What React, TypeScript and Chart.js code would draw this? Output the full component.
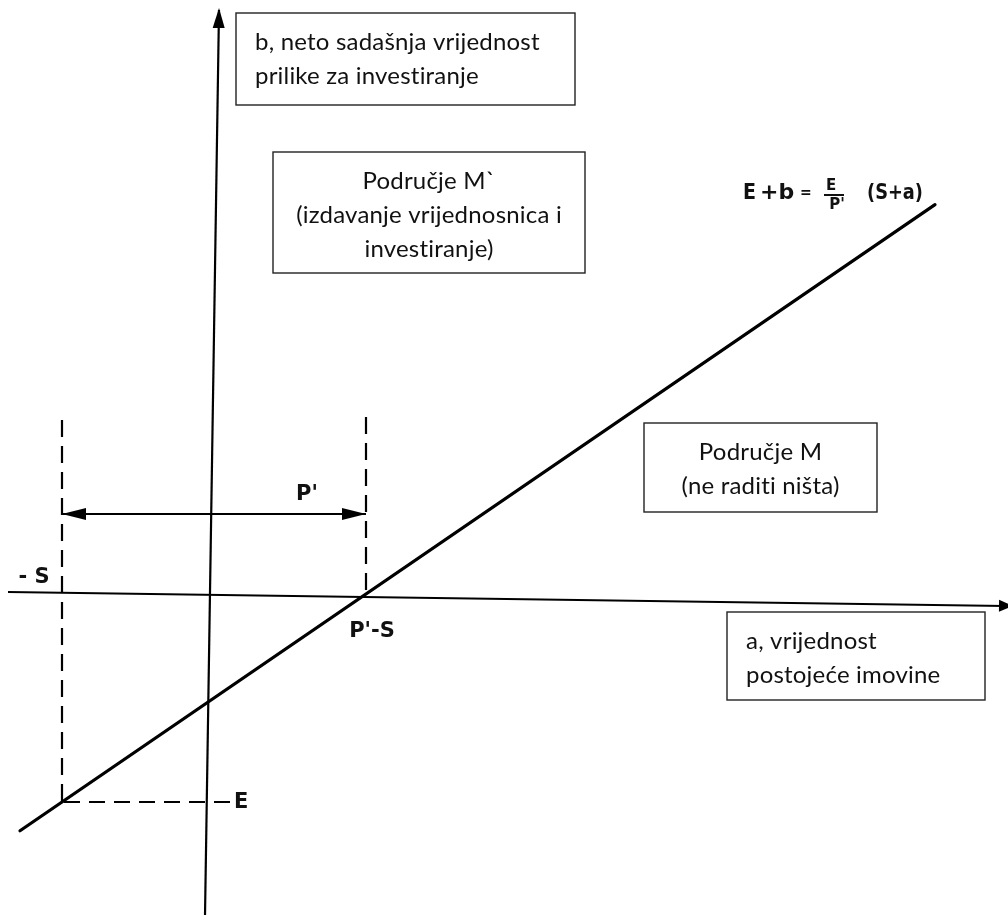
import React, { useEffect, useRef } from "react";
import { Chart, registerables } from "chart.js";

Chart.register(...registerables);

// ---- model values (abstract units, origin at the axes' crossing) ----
const S = 148;
const P = 304;
const E = 208;
const lineA = [-190, 725];
const xAxisA = [-202, 795];
const xAxisB = [2, -12];
const yAxisA = [-5, 9];
const yAxisB = [-321, 584];
const dashTopLeft = 174;
const dashTopRight = 177;
const eDashEnd = 20;
const arrowB = 80;

const scaleX = { min: -210, max: 798 };
const scaleY = { min: -321, max: 594 };

const pointLabels = [
  { text: "- S", a: -176, b: 16, align: "center" },
  { text: "P'", a: 97, b: 99, align: "center" },
  { text: "P'-S", a: 162, b: -38, align: "center" },
  { text: "E", a: 24, b: -209, align: "left" },
];

const boxes = [
  { a0: 26, a1: 365, b0: 581, b1: 489, align: "left", lines: ["b, neto sadašnja vrijednost", "prilike za investiranje"] },
  { a0: 63, a1: 375, b0: 442, b1: 321, align: "center", lines: ["Područje M`", "(izdavanje vrijednosnica i", "investiranje)"] },
  { a0: 434, a1: 667, b0: 171, b1: 82, align: "center", lines: ["Područje M", "(ne raditi ništa)"] },
  { a0: 517, a1: 775, b0: -18, b1: -106, align: "left", lines: ["a, vrijednost", "postojeće imovine"] },
];

const lineB = (a: number) => (E / P) * (S + a) - E;

function arrowHead(ctx: CanvasRenderingContext2D, tx: number, ty: number, fx: number, fy: number, len: number, hw: number) {
  const ang = Math.atan2(ty - fy, tx - fx);
  const bx = tx - len * Math.cos(ang);
  const by = ty - len * Math.sin(ang);
  const nx = -Math.sin(ang) * hw;
  const ny = Math.cos(ang) * hw;
  ctx.beginPath();
  ctx.moveTo(tx, ty);
  ctx.lineTo(bx + nx, by + ny);
  ctx.lineTo(bx - nx, by - ny);
  ctx.closePath();
  ctx.fill();
}

const overlay = {
  id: "overlay",
  afterDatasetsDraw(chart: any) {
    const ctx: CanvasRenderingContext2D = chart.ctx;
    const xs = chart.scales.x;
    const ys = chart.scales.y;
    const px = (a: number) => xs.getPixelForValue(a);
    const py = (b: number) => ys.getPixelForValue(b);
    ctx.save();
    ctx.fillStyle = "#000";
    // axis arrows
    arrowHead(ctx, px(xAxisA[1]) + 8, py(xAxisB[1]), px(xAxisA[0]), py(xAxisB[0]), 14, 6);
    arrowHead(ctx, px(yAxisA[1]), py(yAxisB[1]) - 2, px(yAxisA[0]), py(yAxisB[0]), 20, 6);
    // double arrow P'
    arrowHead(ctx, px(-S), py(arrowB), px(P - S), py(arrowB), 24, 6);
    arrowHead(ctx, px(P - S), py(arrowB), px(-S), py(arrowB), 24, 6);

    // hand-lettered labels
    ctx.fillStyle = "#111";
    ctx.textBaseline = "middle";
    ctx.font = "bold 21px 'DejaVu Sans'";
    for (const l of pointLabels) {
      ctx.textAlign = l.align as CanvasTextAlign;
      ctx.fillText(l.text, px(l.a), py(l.b));
    }

    // formula E + b = E/P' (S+a)
    ctx.textAlign = "left";
    ctx.font = "bold 22px 'DejaVu Sans'";
    ctx.fillText("E", px(533), py(401), 13);
    ctx.fillText("+b", px(550), py(401), 37);
    ctx.fillText("(S+a)", px(657), py(401), 56);
    ctx.font = "bold 14px 'DejaVu Sans'";
    ctx.fillText("=", px(590), py(401));
    ctx.textAlign = "center";
    ctx.font = "bold 15px 'DejaVu Sans'";
    ctx.fillText("E", px(621), py(408), 12);
    ctx.fillText("P'", px(627), py(389), 18);
    ctx.lineWidth = 2;
    ctx.strokeStyle = "#111";
    ctx.beginPath();
    ctx.moveTo(px(614), py(399));
    ctx.lineTo(px(634), py(399));
    ctx.stroke();

    // text boxes
    for (const bx of boxes) {
      const x0 = px(bx.a0), x1 = px(bx.a1), y0 = py(bx.b0), y1 = py(bx.b1);
      ctx.fillStyle = "#fff";
      ctx.fillRect(x0, y0, x1 - x0, y1 - y0);
      ctx.lineWidth = 1.4;
      ctx.strokeStyle = "#222";
      ctx.strokeRect(x0, y0, x1 - x0, y1 - y0);
      ctx.fillStyle = "#111";
      ctx.font = "24px Lato";
      (ctx as any).letterSpacing = "0.2px";
      ctx.textBaseline = "middle";
      ctx.textAlign = bx.align as CanvasTextAlign;
      const tx = bx.align === "center" ? (x0 + x1) / 2 : x0 + 19;
      bx.lines.forEach((t, i) => ctx.fillText(t, tx, y0 + 29 + i * 34));
      (ctx as any).letterSpacing = "0px";
    }
    ctx.restore();
  },
};

export default function App() {
  const ref = useRef<HTMLCanvasElement | null>(null);
  useEffect(() => {
    if (!ref.current) return;
    const base = { showLine: true, pointRadius: 0, borderColor: "#000", fill: false, tension: 0 };
    const chart = new Chart(ref.current, {
      type: "scatter",
      data: {
        datasets: [
          { ...base, label: "x-os", borderWidth: 2, data: xAxisA.map((a, i) => ({ x: a, y: xAxisB[i] })) },
          { ...base, label: "y-os", borderWidth: 2.2, data: yAxisA.map((a, i) => ({ x: a, y: yAxisB[i] })) },
          { ...base, label: "E+b", borderWidth: 3.2, borderCapStyle: "round", data: lineA.map((a) => ({ x: a, y: lineB(a) })) },
          { ...base, label: "-S", borderWidth: 2.2, borderDash: [17, 9], data: [{ x: -S, y: dashTopLeft }, { x: -S, y: -E }] },
          { ...base, label: "P'-S", borderWidth: 2.2, borderDash: [17, 9], data: [{ x: P - S, y: dashTopRight }, { x: P - S, y: 0 }] },
          { ...base, label: "-E", borderWidth: 2.2, borderDash: [16, 9], data: [{ x: eDashEnd, y: -E }, { x: -S, y: -E }] },
          { ...base, label: "P'", borderWidth: 2, data: [{ x: -S, y: arrowB }, { x: P - S, y: arrowB }] },
        ] as any,
      },
      options: {
        animation: false,
        responsive: true,
        maintainAspectRatio: false,
        layout: { padding: 0 },
        plugins: { legend: { display: false }, tooltip: { enabled: false } },
        scales: {
          x: { type: "linear", min: scaleX.min, max: scaleX.max, display: false },
          y: { type: "linear", min: scaleY.min, max: scaleY.max, display: false },
        },
      },
      plugins: [overlay],
    });
    return () => chart.destroy();
  }, []);
  return (
    <div style={{ position: "fixed", left: 0, top: 0, width: 1008, height: 915, background: "#fff" }}>
      <canvas ref={ref} />
    </div>
  );
}
